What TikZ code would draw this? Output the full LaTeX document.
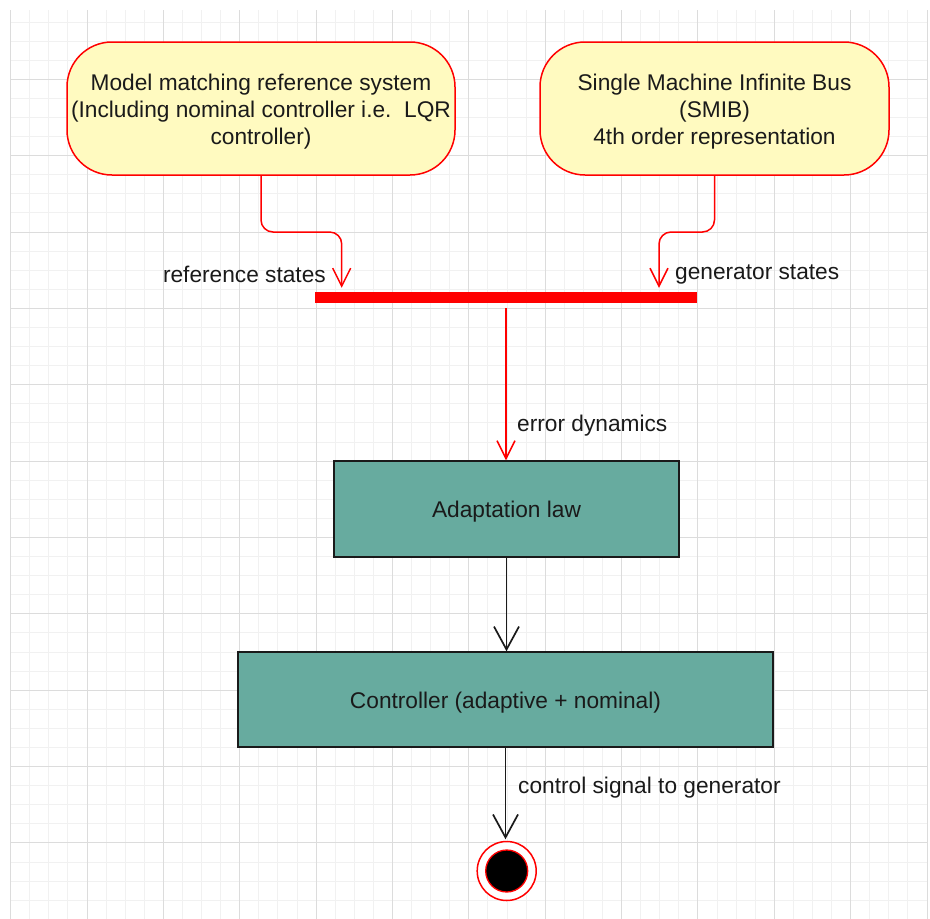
\documentclass[tikz,border=0pt]{standalone}
\usepackage{fontspec}
\setmainfont{Liberation Sans}
\usetikzlibrary{arrows.meta,calc}

\definecolor{gridminor}{RGB}{241,241,241}
\definecolor{gridmajor}{RGB}{220,220,220}
\definecolor{statefill}{RGB}{255,250,192}
\definecolor{actfill}{RGB}{103,171,159}
\definecolor{flowred}{RGB}{255,0,0}
\definecolor{inkdark}{RGB}{26,26,26}

\begin{document}
\begin{tikzpicture}[x=1pt,y=-1pt,
  every node/.style={font=\fontsize{22.7}{27}\selectfont, inner sep=0pt, text=inkdark},
  statebox/.style={draw=flowred, line width=1.5pt, fill=statefill,
    rounded corners=45pt, align=center, minimum height=133pt},
  actbox/.style={draw=inkdark, line width=1.4pt, fill=actfill,
    text height=22.6pt, text depth=4.8pt},
  syncbar/.style={fill=flowred, minimum width=382pt, minimum height=11pt},
  redflow/.style={draw=flowred, line width=1.5pt, rounded corners=12pt,
    -{Straight Barb[length=18pt,width=18pt,line width=1.5pt]}},
  blackflow/.style={draw=inkdark, line width=1.7pt,
    -{Straight Barb[length=23pt,width=25pt,line width=1.7pt]}},
  flowlabel/.style={anchor=base west}
]
% page and background
\useasboundingbox (0,0) rectangle (930,919);
\fill[white] (0,0) rectangle (930,919);

% grid paper
\foreach \i in {0,...,48} {
  \pgfmathsetmacro\gx{10.7+19.09*\i}
  \draw[gridminor, line width=1pt] (\gx,10) -- (\gx,919);
}
\foreach \j in {1,...,47} {
  \pgfmathsetmacro\gy{2.95+19.09*\j}
  \draw[gridminor, line width=1pt] (10.7,\gy) -- (928,\gy);
}
\foreach \i in {0,4,...,48} {
  \pgfmathsetmacro\gx{10.7+19.09*\i}
  \draw[gridmajor, line width=1pt] (\gx,10) -- (\gx,919);
}
\foreach \j in {4,8,...,44} {
  \pgfmathsetmacro\gy{2.95+19.09*\j}
  \draw[gridmajor, line width=1pt] (10.7,\gy) -- (928,\gy);
}

% source states (the rule on the first line lowers the text block a little)
\node[statebox, minimum width=388pt] (lbox) at (261,108.5)
  {\rule{0pt}{22.5pt}Model matching reference system\\(Including nominal controller i.e.\ \ LQR\\controller)};
\node[statebox, minimum width=349pt] (rbox) at (714.5,108.5)
  {\rule{0pt}{22.5pt}Single Machine Infinite Bus\\(SMIB)\\4th order representation};

% join bar
\node[syncbar] (bar) at (506,297.5) {};

% activities
\node[actbox, minimum width=345pt, minimum height=96pt] (adapt) at (506.5,509) {Adaptation law};
\node[actbox, minimum width=535pt, minimum height=95pt] (ctrl) at (505.5,699.5) {Controller (adaptive + nominal)};

% final state
\node[circle, draw=flowred, line width=1.5pt, fill=white, minimum size=59pt] (endst) at (506.7,871) {};
\node[circle, draw=flowred, line width=1.3pt, fill=black, minimum size=42pt] (endcore) at (endst) {};

% connectors
\coordinate (lin) at (341.7,232);
\coordinate (rin) at (659,232);
\draw[redflow, shorten >=4pt] (lbox.south) |- (lin) -- (lin |- bar.north);
\draw[redflow, shorten >=4pt] (rbox.south) |- (rin) -- (rin |- bar.north);
\draw[redflow, shorten <=5pt] (bar.south) -- (bar.south |- adapt.north);
\draw[blackflow] (adapt.south) -- (adapt.south |- ctrl.north);
\draw[blackflow, shorten >=1.5pt] (ctrl.south) -- (ctrl.south |- endst.north);

% labels
\node[anchor=base east] (reflbl) at (326,282) {reference states};
\node[flowlabel] (genlbl) at (675,279.5) {generator states};
\node[flowlabel] (errlbl) at (517,431.5) {error dynamics};
\node[flowlabel] (ctllbl) at (518,793) {control signal to generator};
\end{tikzpicture}
\end{document}
